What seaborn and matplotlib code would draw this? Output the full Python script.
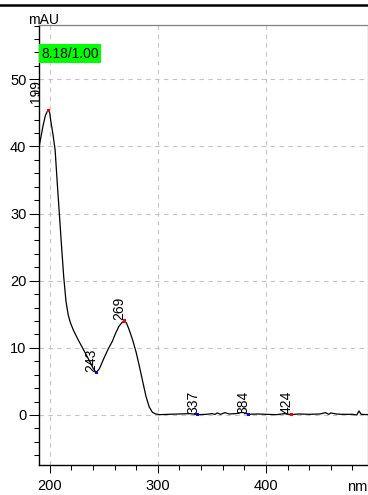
import matplotlib
matplotlib.use("Agg")
import matplotlib.pyplot as plt
from matplotlib.lines import Line2D
from matplotlib.ticker import MultipleLocator, FixedLocator
import seaborn as sns
import pandas as pd

# ---- data ----
wavelength = [190, 192, 194, 196, 198, 199, 200, 201, 203, 205, 207, 209, 211, 213,
              215, 217, 219, 222, 226, 230, 234, 237, 240, 243, 246, 250, 254, 258,
              261, 264, 267, 269, 271, 273, 275, 277, 280, 283, 286, 289, 292, 295,
              298, 302, 310, 320, 330, 337, 345, 350, 353, 355, 358, 362, 366, 372,
              378, 384, 392, 400, 410, 417, 424, 430, 440, 450, 455, 458, 460, 465,
              470, 480, 484, 486, 488, 494]
absorbance = [39.8, 41.5, 43.2, 44.6, 45.3, 45.4, 45.0, 43.8, 41.8, 39.5, 34.5, 29.8,
              25.0, 20.5, 17.0, 15.0, 13.8, 12.6, 11.3, 10.1, 8.9, 8.0, 7.0, 6.3, 6.9,
              8.4, 9.8, 11.0, 12.2, 13.2, 13.8, 14.0, 13.7, 12.9, 12.0, 11.0, 9.3, 7.2,
              5.0, 2.8, 1.2, 0.4, 0.15, 0.05, 0.1, 0.15, 0.2, 0.05, 0.1, 0.2, 0.1, 0.3,
              0.1, 0.35, 0.15, 0.2, 0.4, 0.1, 0.15, 0.1, 0.05, 0.2, 0.05, 0.15, 0.1,
              0.15, 0.35, 0.1, 0.3, 0.15, 0.1, 0.1, 0.0, 0.6, 0.1, 0.05]

peak_wl = [199, 243, 269, 337, 384, 424]
peak_val = [45.4, 6.3, 14.0, 0.05, 0.1, 0.05]
peak_kind = ["max", "min", "max", "min", "min", "max"]
peak_text = ["199", "243", "269", "337", "384", "424"]

x_ticks = [200, 300, 400]
y_ticks = [0, 10, 20, 30, 40, 50]
box_label = "8.18/1.00"
y_unit = "mAU"
x_unit = "nm"

# ---- figure ----
plt.rcParams["font.family"] = ["Liberation Sans", "DejaVu Sans"]
W, H = 368, 495
fig = plt.figure(figsize=(W / 100, H / 100), dpi=100)
ax = fig.add_axes([39 / W, 30 / H, 328.5 / W, 440 / H])

spec = pd.DataFrame({"wl": wavelength, "abs": absorbance})
peaks = pd.DataFrame({"wl": peak_wl, "abs": peak_val, "kind": peak_kind, "txt": peak_text})

ax.grid(True, which="major", color="#c4c4c4", linestyle=(0, (4, 4)), linewidth=0.8, zorder=0)
ax.set_axisbelow(True)

sns.lineplot(data=spec, x="wl", y="abs", ax=ax, color="black", linewidth=0.9,
             sort=False, zorder=3)
sns.scatterplot(data=peaks, x="wl", y="abs", hue="kind",
                palette={"max": "#ff0000", "min": "#0000ff"}, marker="s", s=5,
                linewidth=0, legend=False, ax=ax, zorder=4)

offsets = {"199": (-4, 5)}
for _, r in peaks.iterrows():
    dx, dy = offsets.get(r["txt"], (1.5, 0.5))
    ax.annotate(r["txt"], (r["wl"], r["abs"]), xytext=(dx, dy), textcoords="offset points",
                rotation=90, ha="right", va="bottom", fontsize=10, color="black", zorder=5)

ax.set_xlim(190.1, 493.9)
ax.set_ylim(-7.45, 58.09)
ax.xaxis.set_major_locator(FixedLocator(x_ticks))
ax.xaxis.set_minor_locator(MultipleLocator(20))
ax.yaxis.set_major_locator(FixedLocator(y_ticks))
ax.yaxis.set_minor_locator(MultipleLocator(2))
ax.set_xticklabels([str(t) for t in x_ticks])
ax.set_yticklabels([str(t) for t in y_ticks])
ax.set_xlabel("")
ax.set_ylabel("")

ax.tick_params(axis="y", which="major", direction="out", length=7.2, width=0.75,
               pad=1.8, labelsize=10.5)
ax.tick_params(axis="y", which="minor", direction="out", length=3.6, width=0.75)
ax.tick_params(axis="x", which="major", direction="out", length=5.8, width=0.75,
               pad=4.5, labelsize=10.5)
ax.tick_params(axis="x", which="minor", direction="out", length=3.6, width=0.75)

for s in ["left", "bottom"]:
    ax.spines[s].set_color("black")
    ax.spines[s].set_linewidth(1.0)
for s in ["top", "right"]:
    ax.spines[s].set_color("#808080")
    ax.spines[s].set_linewidth(0.9)

ax.text(2.5 / 328.5, (465 - 53.5) / 440, box_label, transform=ax.transAxes,
        ha="left", va="center", fontsize=10, color="black", zorder=6,
        bbox=dict(boxstyle="square,pad=0.15", facecolor="#00ff00", edgecolor="none"))

fig.text(44 / W, 1 - 20.5 / H, y_unit, ha="center", va="center", fontsize=10)
fig.text(357.5 / W, 1 - 487 / H, x_unit, ha="center", va="center", fontsize=10.5)

fig.add_artist(Line2D([0, 1], [1 - 5 / H, 1 - 5 / H], color="black", linewidth=1.8,
                      transform=fig.transFigure))

fig.savefig("out.png", dpi=100, facecolor="white")
